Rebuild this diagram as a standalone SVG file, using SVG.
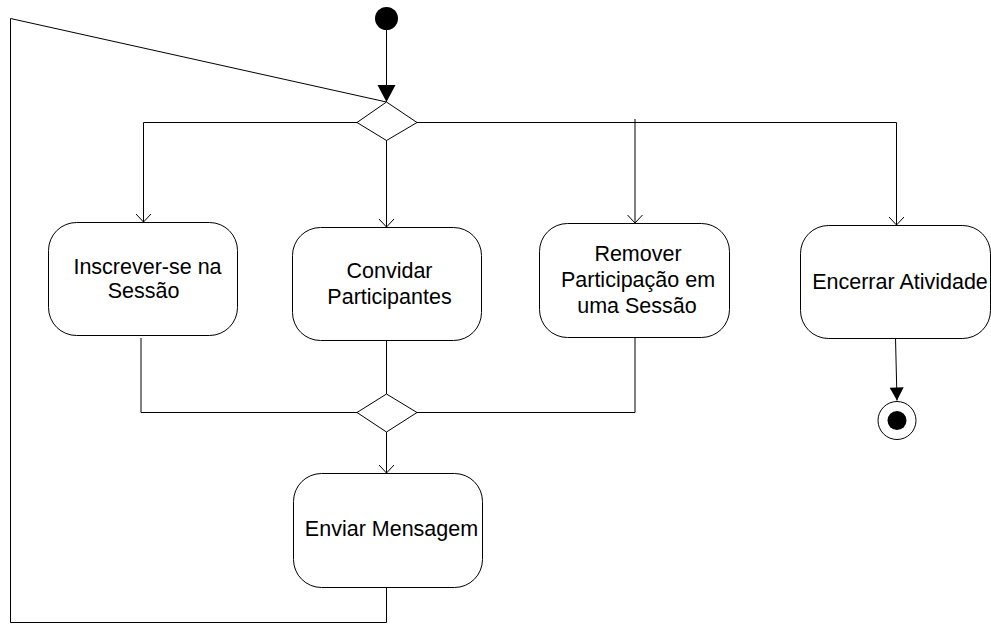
<svg xmlns="http://www.w3.org/2000/svg" width="991" height="624" viewBox="0 0 991 624">
<style>
.box{fill:#fff;stroke:#000;stroke-width:1}
.ln{fill:none;stroke:#000;stroke-width:1}
.dia{fill:#fff;stroke:#000;stroke-width:1}
.t{font-family:"Liberation Sans",Arial,sans-serif;font-size:21.5px;fill:#000;text-anchor:middle}
</style>
<defs>
<marker id="open" markerUnits="userSpaceOnUse" markerWidth="20" markerHeight="20" viewBox="-10 -10 20 20" refX="0" refY="0" orient="auto">
<path d="M-8,-7.5 L0,0 L-8,7.5" fill="none" stroke="#000" stroke-width="1"/>
</marker>
<marker id="fillbig" markerUnits="userSpaceOnUse" markerWidth="24" markerHeight="24" viewBox="-20 -12 24 24" refX="0" refY="0" orient="auto">
<path d="M-17,-9 L0,0 L-17,9 Z" fill="#000"/>
</marker>
<marker id="fillsm" markerUnits="userSpaceOnUse" markerWidth="20" markerHeight="20" viewBox="-16 -10 20 20" refX="0" refY="0" orient="auto">
<path d="M-13,-7 L0,0 L-13,7 Z" fill="#000"/>
</marker>
</defs>
<rect width="991" height="624" fill="#fff"/>

<g id="connectors">
<line class="ln" x1="386.5" y1="30" x2="386.5" y2="102" marker-end="url(#fillbig)"/>
<path class="ln" d="M386.5,587 V622.5 H10.5 V18.5 L386.5,102"/>
<path class="ln" d="M357,122.5 H143.5 V222" marker-end="url(#open)"/>
<line class="ln" x1="386.5" y1="140" x2="386.5" y2="227" marker-end="url(#open)"/>
<line class="ln" x1="417" y1="122.5" x2="896.5" y2="122.5"/>
<line class="ln" x1="635" y1="119" x2="635" y2="223" marker-end="url(#open)"/>
<line class="ln" x1="896.5" y1="122.5" x2="896.5" y2="225" marker-end="url(#open)"/>
<path class="ln" d="M141,338 V412.5 H357"/>
<line class="ln" x1="386.5" y1="340" x2="386.5" y2="394"/>
<path class="ln" d="M635,330 V412.5 H417"/>
<line class="ln" x1="386.5" y1="432" x2="386.5" y2="473" marker-end="url(#open)"/>
<line class="ln" x1="895.5" y1="338" x2="897" y2="400.5" marker-end="url(#fillsm)"/>
</g>

<g id="start">
<circle cx="386.5" cy="18.5" r="11.5" fill="#000"/>
</g>

<g id="decision1">
<polygon class="dia" points="386.5,102 417,122.5 386.5,140.5 357,122.5"/>
</g>

<g id="inscrever">
<rect class="box" x="48.5" y="222.5" width="189" height="113" rx="28" ry="28"/>
<text class="t" x="147.5" y="274">Inscrever-se na</text>
<text class="t" x="143.5" y="298">Sessão</text>
</g>

<g id="convidar">
<rect class="box" x="292.5" y="227.5" width="189" height="113" rx="28" ry="28"/>
<text class="t" x="389.5" y="278">Convidar</text>
<text class="t" x="389.5" y="304">Participantes</text>
</g>

<g id="remover">
<rect class="box" x="539.5" y="223.5" width="190" height="114" rx="28" ry="28"/>
<text class="t" x="638" y="261">Remover</text>
<text class="t" x="638" y="287">Participação em</text>
<text class="t" x="637" y="313">uma Sessão</text>
</g>

<g id="encerrar">
<rect class="box" x="800.5" y="225.5" width="190" height="113" rx="28" ry="28"/>
<text class="t" x="900" y="289">Encerrar Atividade</text>
</g>

<g id="decision2">
<polygon class="dia" points="386.5,394 417,412.5 386.5,432 357,412.5"/>
</g>

<g id="enviar">
<rect class="box" x="293.5" y="473.5" width="189" height="114" rx="28" ry="28"/>
<text class="t" x="391.5" y="536">Enviar Mensagem</text>
</g>

<g id="final">
<circle cx="897" cy="420.5" r="19" fill="#fff" stroke="#000" stroke-width="1"/>
<circle cx="897" cy="420.5" r="9.5" fill="#000"/>
</g>
</svg>
